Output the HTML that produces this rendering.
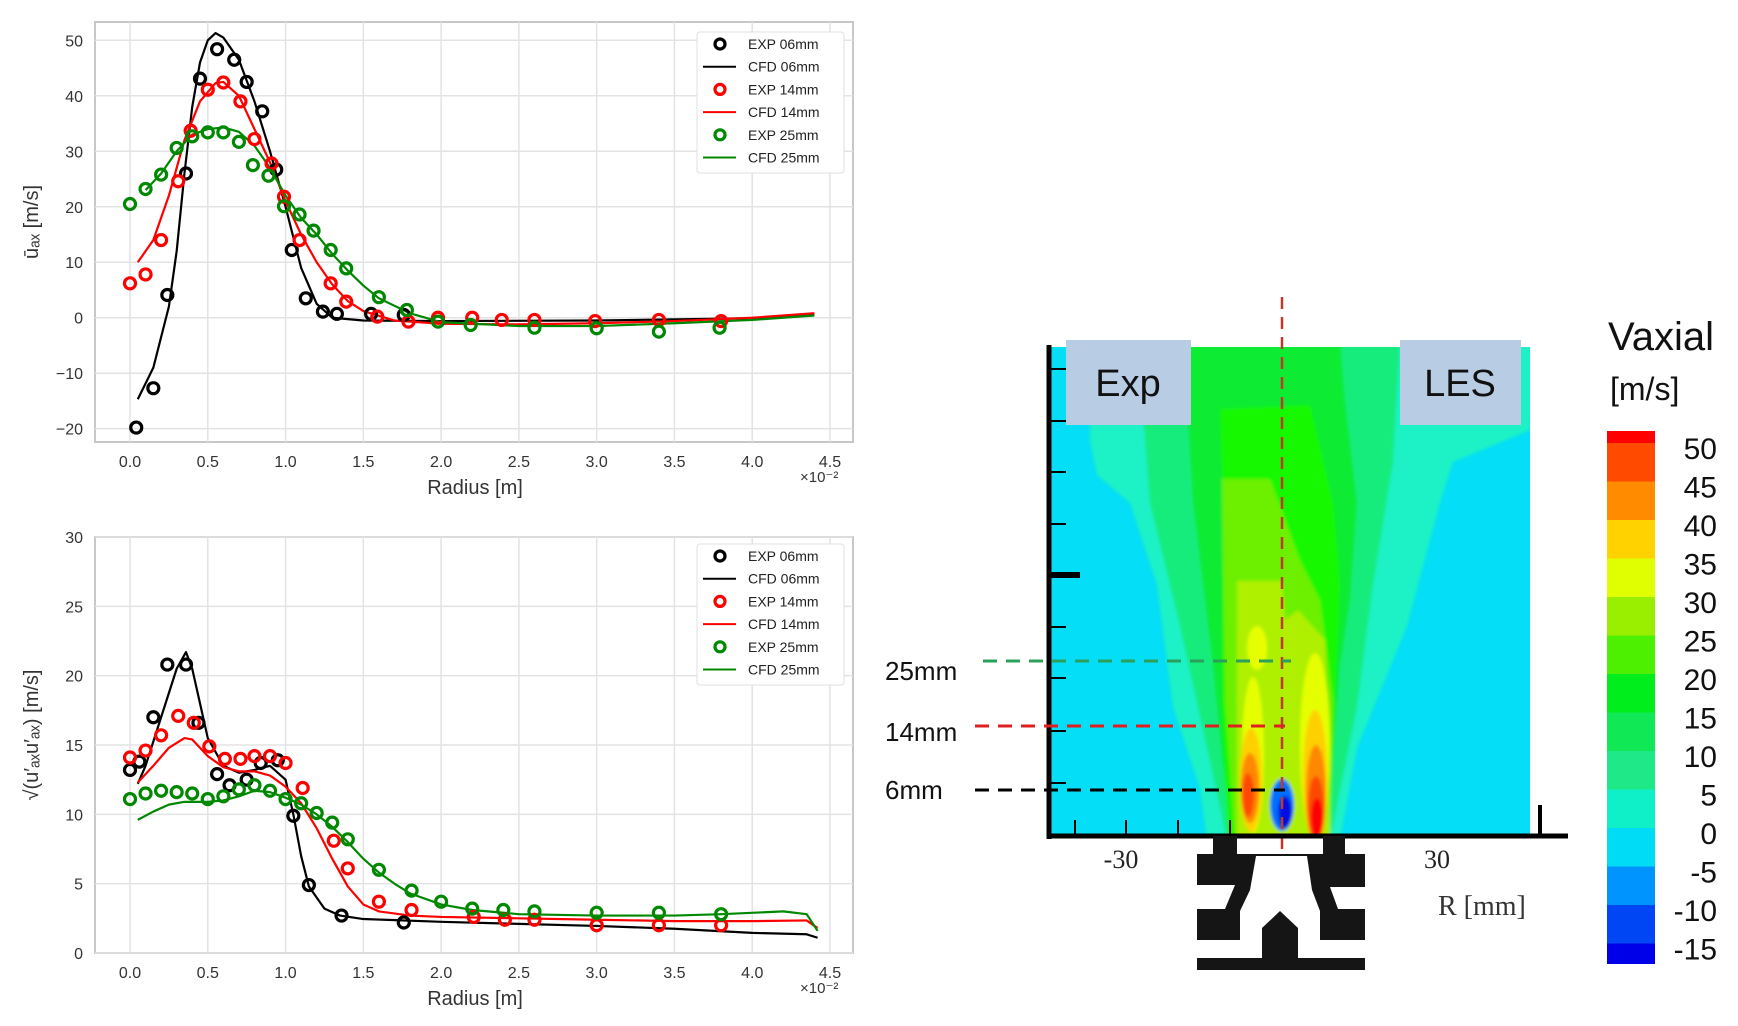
<!DOCTYPE html>
<html><head><meta charset="utf-8"><style>
body{margin:0;background:#fff;}
svg{display:block;font-family:"Liberation Sans",sans-serif;}
</style></head><body>
<svg id="root" width="1738" height="1026" viewBox="0 0 1738 1026">
<g id="top"></g>
<g id="bot"></g>
<g id="contour">
  <defs><clipPath id="cbox"><rect x="1051" y="347" width="479" height="488"/></clipPath>
  <filter id="bl"><feGaussianBlur stdDeviation="1.5"/></filter></defs>
  <g clip-path="url(#cbox)">
    <rect x="1051" y="347" width="479" height="488" fill="#04def6"/>
    <g filter="url(#bl)">
    <polygon fill="#1cf2c6" points="1090,340 1540,340 1530,430 1453,462 1440,503 1407,626 1357,748 1340,840 1207,840 1200,789 1173,707 1157,585 1130,503 1097,475 1090,440"/>
    <polygon fill="#12ec7c" points="1137,340 1400,340 1393,462 1373,585 1357,707 1330,840 1227,840 1207,748 1180,626 1150,503"/>
    <polygon fill="#08ec30" points="1183,340 1340,340 1345,400 1357,503 1350,600 1340,666 1327,840 1230,840 1213,666 1193,503"/>
    <polygon fill="#14f800" points="1220,409 1310,405 1333,503 1340,585 1335,700 1330,840 1228,840 1222,700 1223,503"/>
    <polygon fill="#6cf000" points="1222,479 1270,479 1300,560 1320,600 1333,700 1330,840 1235,840 1225,700"/>
    <polygon fill="#aef000" points="1237,581 1282,581 1285,620 1298,610 1325,640 1330,840 1237,840"/>
    <ellipse fill="#e6ff00" cx="1257" cy="648" rx="10" ry="22"/>
    <ellipse fill="#e6ff00" cx="1253" cy="755" rx="11" ry="78"/>
    <ellipse fill="#e6ff00" cx="1315" cy="745" rx="15" ry="92"/>
    <ellipse fill="#ffd000" cx="1315" cy="775" rx="12" ry="65"/>
    <ellipse fill="#ffd000" cx="1251" cy="780" rx="11" ry="52"/>
    <ellipse fill="#ff8800" cx="1316" cy="795" rx="10" ry="50"/>
    <ellipse fill="#ff8800" cx="1250" cy="788" rx="9" ry="35"/>
    <ellipse fill="#ff4a00" cx="1316" cy="808" rx="8" ry="32"/>
    <ellipse fill="#ff4a00" cx="1248" cy="795" rx="6" ry="22"/>
    <ellipse fill="#ff0000" cx="1317" cy="818" rx="6" ry="20"/>
    <ellipse fill="#0070ff" cx="1282" cy="805" rx="12" ry="26"/>
    <ellipse fill="#0010e0" cx="1285" cy="812" rx="7" ry="16"/>
    </g>
  </g>
  <rect x="1066" y="340" width="125" height="85" fill="#b8cce4"/>
  <text x="1128" y="396" font-size="38" text-anchor="middle" fill="#111">Exp</text>
  <rect x="1400" y="340" width="121" height="85" fill="#b8cce4"/>
  <text x="1460" y="396" font-size="38" text-anchor="middle" fill="#111">LES</text>
  <line x1="1282" y1="297" x2="1282" y2="864" stroke="#c0392b" stroke-width="2.5" stroke-dasharray="12,8"/>
  <line x1="1049" y1="345" x2="1049" y2="839" stroke="#000" stroke-width="5"/>
  <line x1="1047" y1="836" x2="1568" y2="836" stroke="#000" stroke-width="5"/>
  <line x1="1540" y1="805" x2="1540" y2="836" stroke="#000" stroke-width="4"/>
  <g id="cticks" stroke="#000" stroke-width="2"></g>
  <line x1="1049" y1="575" x2="1080" y2="575" stroke="#000" stroke-width="6"/>
  <line x1="983" y1="661" x2="1291" y2="661" stroke="#2ca05a" stroke-width="3" stroke-dasharray="14,9"/>
  <line x1="975" y1="726" x2="1285" y2="726" stroke="#e02020" stroke-width="3" stroke-dasharray="14,9"/>
  <line x1="975" y1="790" x2="1285" y2="790" stroke="#000" stroke-width="3" stroke-dasharray="14,9"/>
  <text x="885" y="680" font-size="26" fill="#111">25mm</text>
  <text x="885" y="741" font-size="26" fill="#111">14mm</text>
  <text x="885" y="799" font-size="26" fill="#111">6mm</text>
  <text x="1121" y="868" font-size="26" text-anchor="middle" fill="#222" font-family="Liberation Serif,serif">-30</text>
  <text x="1437" y="868" font-size="26" text-anchor="middle" fill="#222" font-family="Liberation Serif,serif">30</text>
  <text x="1438" y="915" font-size="28" fill="#333" font-family="Liberation Serif,serif">R [mm]</text>
  <g>
    <rect x="1197" y="854" width="168" height="116" fill="#151515"/>
    <rect x="1213" y="836" width="24" height="19" fill="#151515"/>
    <rect x="1323" y="836" width="22" height="19" fill="#151515"/>
    <polygon fill="#fff" points="1256,856 1307,856 1312,890 1320,911 1320,940 1365,940 1365,958 1197,958 1197,940 1240,940 1240,911 1250,890"/>
    <polygon fill="#151515" points="1262,958 1262,928 1280,911 1298,928 1298,958"/>
    <polygon fill="#fff" points="1197,885 1235,885 1225,909 1197,909"/>
    <polygon fill="#fff" points="1330,887 1365,887 1365,909 1338,909"/>
  </g>
  <text x="1608" y="350" font-size="40" fill="#111">Vaxial</text>
  <text x="1610" y="400" font-size="32" fill="#111">[m/s]</text>
  <g id="cbar"></g>
</g>
</svg>
<script>
const NS="http://www.w3.org/2000/svg";
function mk(p,tag,at,txt){const e=document.createElementNS(NS,tag);for(const k in at)e.setAttribute(k,at[k]);if(txt!==undefined)e.textContent=txt;p.appendChild(e);return e;}

// ---- top chart data ----
const topExp06X=[0.04,0.15,0.24,0.36,0.45,0.56,0.67,0.75,0.85,0.94,1.04,1.13,1.24,1.33,1.55,1.76];
const topExp06Y=[-19.8,-12.7,4.1,26,43.1,48.4,46.5,42.5,37.2,26.7,12.2,3.5,1.1,0.7,0.7,0.5];
const topExp14X=[0,0.1,0.2,0.31,0.39,0.5,0.6,0.71,0.8,0.91,0.99,1.09,1.29,1.39,1.59,1.79,1.98,2.2,2.39,2.6,2.99,3.4,3.8];
const topExp14Y=[6.2,7.8,14,24.6,33.7,41.1,42.4,39,32.2,27.8,21.8,14,6.2,2.9,0.2,-0.7,0,0,-0.4,-0.4,-0.6,-0.4,-0.6];
const topExp25X=[0,0.1,0.2,0.3,0.4,0.5,0.6,0.7,0.79,0.89,0.99,1.09,1.18,1.29,1.39,1.6,1.78,1.98,2.19,2.6,3,3.4,3.79];
const topExp25Y=[20.5,23.2,25.8,30.6,32.7,33.4,33.4,31.7,27.5,25.6,20.1,18.6,15.7,12.2,8.9,3.7,1.4,-0.7,-1.3,-1.8,-1.9,-2.5,-1.8];
const topCfd06X=[0.05,0.15,0.25,0.3,0.35,0.4,0.45,0.5,0.55,0.6,0.7,0.8,0.9,1.0,1.1,1.2,1.3,1.5,2.0,3.0,4.0,4.4];
const topCfd06Y=[-14.7,-9,2,12,26,38,46,50,51.3,50.5,46.5,39,30,20,9,2.5,0,-0.5,-0.6,-0.5,-0.1,0.6];
const topCfd14X=[0.05,0.15,0.25,0.35,0.45,0.55,0.6,0.7,0.8,0.9,1.0,1.1,1.2,1.3,1.4,1.5,1.7,2.0,2.5,3.0,3.5,4.0,4.4];
const topCfd14Y=[10,14,22,32,39,42.3,42.5,40,34,28,21,15,10,6,3,1.2,-0.5,-1.1,-1.2,-1.0,-0.6,0,0.8];
const topCfd25X=[0.1,0.2,0.3,0.4,0.5,0.6,0.7,0.8,0.9,1.0,1.1,1.2,1.3,1.4,1.5,1.6,1.8,2.0,2.5,3.0,3.5,4.0,4.4];
const topCfd25Y=[23,26,30,33,34,34.3,33.5,31,27,22,18,15,11.5,8.5,5.8,3.5,0.8,-0.8,-1.5,-1.5,-1.0,-0.4,0.4];
const topYTicks=[-20,-10,0,10,20,30,40,50];
// ---- bottom chart data ----
const botExp06X=[0,0.06,0.15,0.24,0.36,0.44,0.56,0.64,0.75,0.84,0.95,1.05,1.15,1.36,1.76];
const botExp06Y=[13.2,13.8,17,20.8,20.8,16.6,12.9,12.1,12.5,13.7,13.9,9.9,4.9,2.7,2.2];
const botExp14X=[0,0.1,0.2,0.31,0.41,0.51,0.61,0.71,0.8,0.9,1.0,1.11,1.31,1.4,1.6,1.81,2.21,2.41,2.6,3.0,3.4,3.8];
const botExp14Y=[14.1,14.6,15.7,17.1,16.6,14.9,14,14,14.2,14.2,13.7,11.9,8.1,6.1,3.7,3.1,2.6,2.4,2.4,2.0,2.0,2.0];
const botExp25X=[0,0.1,0.2,0.3,0.4,0.5,0.6,0.7,0.8,0.9,1.0,1.1,1.2,1.3,1.4,1.6,1.81,2.0,2.2,2.4,2.6,3.0,3.4,3.8];
const botExp25Y=[11.1,11.5,11.7,11.6,11.5,11.1,11.3,11.8,12.1,11.7,11.1,10.8,10.1,9.4,8.2,6,4.5,3.7,3.2,3.1,3.0,2.9,2.9,2.8];
const botCfd06X=[0.05,0.1,0.2,0.3,0.36,0.4,0.45,0.5,0.6,0.7,0.8,0.9,1.0,1.05,1.1,1.15,1.25,1.35,1.5,2.0,2.5,3.0,3.5,4.0,4.35,4.42];
const botCfd06Y=[12.2,13.5,17,20.5,21.7,20.5,18,15.5,13.5,13,13.2,13.5,12.5,10,7,4.8,3.2,2.7,2.45,2.25,2.1,1.95,1.75,1.45,1.35,1.1];
const botCfd14X=[0.05,0.15,0.25,0.35,0.4,0.5,0.6,0.7,0.8,0.9,1.0,1.1,1.2,1.3,1.4,1.5,1.6,1.8,2.0,2.5,3.0,3.5,4.0,4.35,4.42];
const botCfd14Y=[12.3,13.5,14.8,15.5,15.4,14.2,13.4,13.1,13.1,12.8,12,10.8,9,6.8,4.8,3.5,3,2.7,2.6,2.5,2.4,2.3,2.3,2.35,1.8];
const botCfd25X=[0.05,0.15,0.25,0.35,0.5,0.6,0.7,0.8,0.9,1.0,1.1,1.2,1.3,1.4,1.5,1.6,1.7,1.8,2.0,2.2,2.5,3.0,3.5,3.8,4.2,4.35,4.42];
const botCfd25Y=[9.6,10.2,10.7,10.9,10.9,11,11.3,11.7,11.6,11.2,10.7,10,9.1,8,6.8,5.8,5,4.3,3.5,3.1,2.8,2.7,2.7,2.8,3.0,2.8,1.6];
const botYTicks=[0,5,10,15,20,25,30];
const xTicks=[0,0.5,1,1.5,2,2.5,3,3.5,4,4.5];
const legendLabels=["EXP 06mm","CFD 06mm","EXP 14mm","CFD 14mm","EXP 25mm","CFD 25mm"];
// colorbar
const cbLabels=[50,45,40,35,30,25,20,15,10,5,0,-5,-10,-15];
const cbColors=["#ff0000","#ff4a00","#ff8c00","#ffd200","#e0ff00","#9aef00","#4cf000","#00ee1c","#10e855","#1ee888","#10f0c8","#00dcf5","#0094ff","#0046f5","#0000e8"];

function chart(g,box,ymin,ymax,yticks,series,legTop,ylab){
  const [L,T,R,B]=box;
  const X=v=>130+v*(830-130)/4.5;
  const Y=v=>B-(v-ymin)/(ymax-ymin)*(B-T-0);
  const yT=v=>Y(v);
  mk(g,'rect',{x:L,y:T,width:R-L,height:B-T,fill:'#fff',stroke:'#c8c8c8','stroke-width':2});
  xTicks.forEach(t=>{mk(g,'line',{x1:X(t),y1:T,x2:X(t),y2:B,stroke:'#e3e3e3','stroke-width':1.5});
    const tx=mk(g,'text',{x:X(t),y:B+25,'font-size':16,'text-anchor':'middle',fill:'#333'},t.toFixed(1));
    });
  yticks.forEach(t=>{mk(g,'line',{x1:L,y1:yT(t),x2:R,y2:yT(t),stroke:'#e3e3e3','stroke-width':1.5});
    const ty=mk(g,'text',{x:L-12,y:yT(t)+6,'font-size':16,'text-anchor':'end',fill:'#333'},String(t).replace('-','\u2212'));
    });
  const xl=mk(g,'text',{x:475,y:B+52,'font-size':20,'text-anchor':'middle',fill:'#333'},'Radius [m]');
  
  mk(g,'text',{x:800,y:B+40,'font-size':15,fill:'#333'},'\u00d710\u207b\u00b2');
  const yl=mk(g,'text',{transform:`translate(${38},${(T+B)/2-10}) rotate(-90)`,'font-size':20,'text-anchor':'middle',fill:'#333'},ylab);
  
  series.forEach(s=>{
    if(s.line){const pts=s.x.map((v,i)=>X(v)+','+Y(s.y[i])).join(' ');
      const pl=mk(g,'polyline',{points:pts,fill:'none',stroke:s.c,'stroke-width':2.2,'stroke-linejoin':'round'});
      }
    else s.x.forEach((v,i)=>{const c=mk(g,'circle',{cx:X(v),cy:Y(s.y[i]),r:5.5,fill:'none',stroke:s.c,'stroke-width':3.2});
      });
  });
  const lg=mk(g,'g',{});
  
  mk(lg,'rect',{x:697,y:legTop,width:147,height:141,fill:'#fff',stroke:'#e0e0e0',rx:3});
  legendLabels.forEach((lab,i)=>{const yy=legTop+12+i*22.7;const col=['#000','#000','#f00','#f00','#080','#080'][i];
    if(i%2===0)mk(lg,'circle',{cx:720,cy:yy,r:5,fill:'none',stroke:col,'stroke-width':3.2});
    else mk(lg,'line',{x1:703,y1:yy,x2:736,y2:yy,stroke:col,'stroke-width':2});
    const t=mk(lg,'text',{x:748,y:yy+5,'font-size':14,fill:'#222'},lab);
    });
}
chart(document.getElementById('top'),[95,22,853,442],-22.4,53.3,topYTicks,[
 {x:topCfd06X,y:topCfd06Y,c:'#000',line:1},{x:topCfd14X,y:topCfd14Y,c:'#f00',line:1},{x:topCfd25X,y:topCfd25Y,c:'#080',line:1},
 {x:topExp06X,y:topExp06Y,c:'#000'},{x:topExp14X,y:topExp14Y,c:'#f00'},{x:topExp25X,y:topExp25Y,c:'#080'}],32,'\u016b\u2090\u2093  [m/s]');
chart(document.getElementById('bot'),[95,537,853,953],0,30,botYTicks,[
 {x:botCfd06X,y:botCfd06Y,c:'#000',line:1},{x:botCfd14X,y:botCfd14Y,c:'#f00',line:1},{x:botCfd25X,y:botCfd25Y,c:'#080',line:1},
 {x:botExp06X,y:botExp06Y,c:'#000'},{x:botExp14X,y:botExp14Y,c:'#f00'},{x:botExp25X,y:botExp25Y,c:'#080'}],544,'\u221a(u\u2032\u2090\u2093u\u2032\u2090\u2093)  [m/s]');

// contour axis ticks
const ct=document.getElementById('cticks');
[369,421,472,524,627,678,731,783].forEach(y=>mk(ct,'line',{x1:1049,y1:y,x2:1066,y2:y}));
[1075,1126,1178,1230].forEach(x=>mk(ct,'line',{x1:x,y1:836,x2:x,y2:820}));
// colorbar
const cb=document.getElementById('cbar');
let yy=431;
cbColors.forEach((c,i)=>{const h=(i===0)?12:(i===cbColors.length-1?20:38.5);
  const r=mk(cb,'rect',{x:1607,y:yy,width:48,height:h+0.5,fill:c});
  yy+=h;});
cbLabels.forEach((v,i)=>{const t=mk(cb,'text',{x:1717,y:459+i*38.5,'font-size':30,'text-anchor':'end',fill:'#111'},String(v));
  });
</script>
</body></html>
